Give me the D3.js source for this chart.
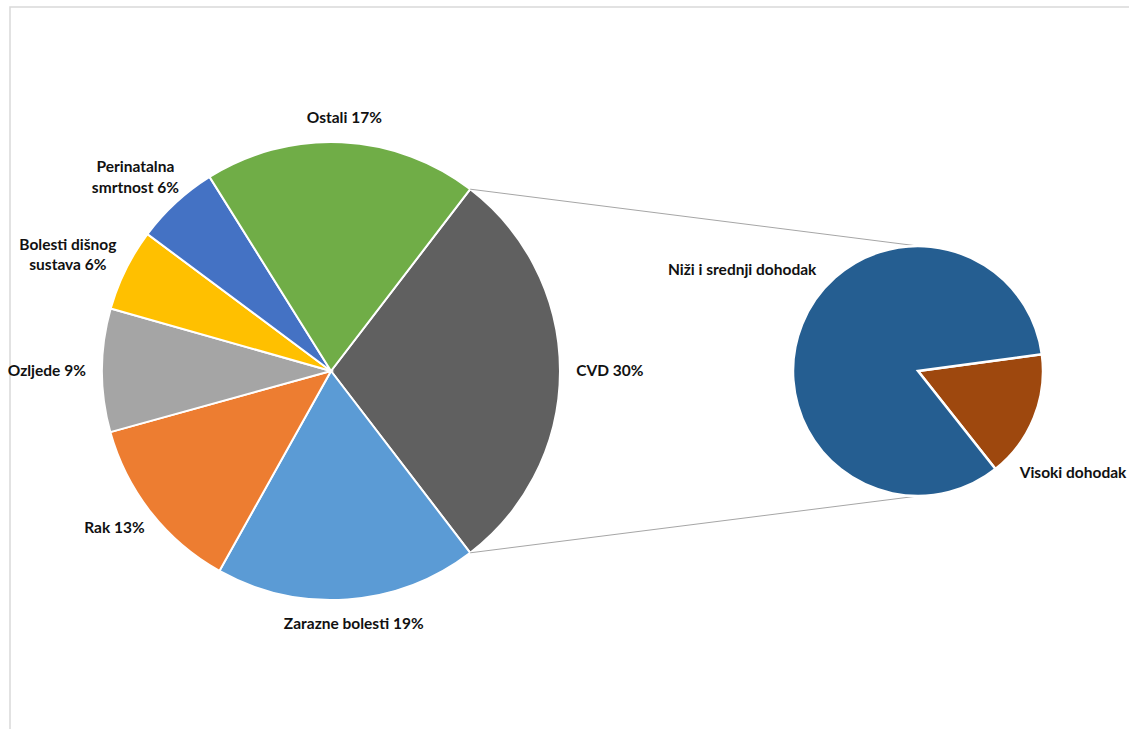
<!DOCTYPE html>
<html>
<head>
<meta charset="utf-8">
<script src="https://cdn.jsdelivr.net/npm/d3@7"></script>
<style>
  body { margin: 0; background: #fff; }
  text { font-family: Lato, 'Liberation Sans', sans-serif; font-weight: bold; fill: #111; }
</style>
</head>
<body>
<div id="chart-area"></div>
<script>
// Data - causes of death (main pie)
const causes = ['CVD', 'Zarazne bolesti', 'Rak', 'Ozljede', 'Bolesti dišnog sustava', 'Perinatalna smrtnost', 'Ostali']
const causeShares = [29.2, 18.5, 12.6, 8.7, 5.8, 5.9, 19.3]
const causeLabels = [['CVD 30%'], ['Zarazne bolesti 19%'], ['Rak 13%'], ['Ozljede 9%'],
	['Bolesti dišnog', 'sustava 6%'], ['Perinatalna', 'smrtnost 6%'], ['Ostali 17%']]
const causeColors = ['#606060', '#5B9BD5', '#ED7D31', '#A5A5A5', '#FFC000', '#4472C4', '#70AD47']

// Data - CVD split by income (second pie)
const incomeGroups = ['Visoki dohodak', 'Niži i srednji dohodak']
const incomeShares = [16.5, 83.5]
const incomeColors = ['#9E480E', '#255E91']

// Sizing
const WIDTH = 1129
const HEIGHT = 729
const MAIN = { X: 331, Y: 371, R: 229 }
const SUB = { X: 918, Y: 371, R: 125 }
const LABEL_GAP = 16
const LINE_H = 20.5
const FONT = '15.5px'

const svg = d3.select('#chart-area').append('svg')
	.attr('width', WIDTH)
	.attr('height', HEIGHT)

// chart border
svg.append('rect')
	.attr('x', 10)
	.attr('y', 7)
	.attr('width', WIDTH + 20)
	.attr('height', HEIGHT + 20)
	.attr('fill', 'none')
	.attr('stroke', '#d9d9d9')
	.attr('stroke-width', 1.5)

// main pie
const cvdAngle = causeShares[0] / d3.sum(causeShares) * 2 * Math.PI
const mainPie = d3.pie()
	.sort(null)
	.startAngle(Math.PI / 2 - cvdAngle / 2)
	.endAngle(Math.PI / 2 - cvdAngle / 2 + 2 * Math.PI)
const mainArcs = mainPie(causeShares)
const mainArc = d3.arc().innerRadius(0).outerRadius(MAIN.R)

const gMain = svg.append('g')
	.attr('transform', `translate(${MAIN.X}, ${MAIN.Y})`)

// second pie
const subPie = d3.pie()
	.sort(null)
	.startAngle(82.3 * Math.PI / 180)
	.endAngle(82.3 * Math.PI / 180 + 2 * Math.PI)
const subArcs = subPie(incomeShares)
const subArc = d3.arc().innerRadius(0).outerRadius(SUB.R)

// connector lines from the CVD slice edges to top/bottom of the second pie
const cvd = mainArcs[0]
const connectors = [
	[cvd.startAngle, -SUB.R],
	[cvd.endAngle, SUB.R]
]
svg.selectAll('line.connector')
	.data(connectors)
	.enter().append('line')
	.attr('class', 'connector')
	.attr('x1', d => MAIN.X + MAIN.R * Math.sin(d[0]))
	.attr('y1', d => MAIN.Y - MAIN.R * Math.cos(d[0]))
	.attr('x2', SUB.X)
	.attr('y2', d => SUB.Y + d[1])
	.attr('stroke', '#a6a6a6')
	.attr('stroke-width', 1)

gMain.selectAll('path')
	.data(mainArcs)
	.enter().append('path')
	.attr('d', mainArc)
	.attr('fill', (d, i) => causeColors[i])
	.attr('stroke', '#fff')
	.attr('stroke-width', 2)

// main pie labels - outside end, box touching the label circle
const mainLabels = gMain.selectAll('g.label')
	.data(mainArcs)
	.enter().append('g')
	.attr('class', 'label')

mainLabels.each(function(d, i) {
	const g = d3.select(this)
	const lines = causeLabels[i]
	lines.forEach((line, k) => {
		g.append('text')
			.attr('text-anchor', 'middle')
			.attr('dy', '0.35em')
			.attr('y', (k - (lines.length - 1) / 2) * LINE_H)
			.attr('font-size', FONT)
			.text(line)
	})
	const bb = this.getBBox()
	const a = (d.startAngle + d.endAngle) / 2
	const ux = Math.sin(a)
	const uy = -Math.cos(a)
	const px = ux * (MAIN.R + LABEL_GAP)
	const py = uy * (MAIN.R + LABEL_GAP)
	const h = lines.length * LINE_H - 4
	g.attr('transform', `translate(${px + ux * bb.width / 2}, ${py + uy * h / 2})`)
})

const gSub = svg.append('g')
	.attr('transform', `translate(${SUB.X}, ${SUB.Y})`)

gSub.selectAll('path')
	.data(subArcs)
	.enter().append('path')
	.attr('d', subArc)
	.attr('fill', (d, i) => incomeColors[i])
	.attr('stroke', '#fff')
	.attr('stroke-width', 2.5)

// second pie labels - best fit on the diagonal
const diag = SUB.R * 1.15 * Math.SQRT1_2
gSub.selectAll('text')
	.data(subArcs)
	.enter().append('text')
	.attr('x', (d, i) => i === 0 ? diag : -diag)
	.attr('y', (d, i) => i === 0 ? diag : -diag)
	.attr('dy', '0.35em')
	.attr('text-anchor', (d, i) => i === 0 ? 'start' : 'end')
	.attr('font-size', FONT)
	.text((d, i) => incomeGroups[i])
</script>
</body>
</html>
